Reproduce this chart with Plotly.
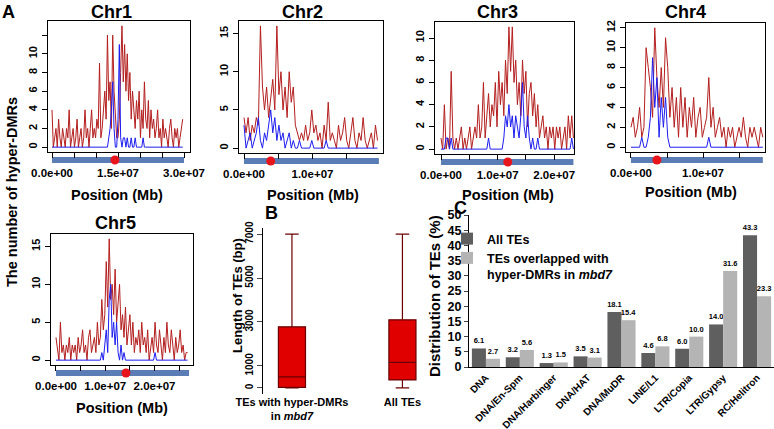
import plotly.graph_objects as go

W, H = 774, 429
def fx(p): return p / W
def fy(p): return 1 - p / H

BIN_MB = 0.3  # bin size (Mb) of the hyper-DMR counts

# ---------------- Panel A data ----------------
chr1_red = [4,0,1,2,0,3,1,0,2,1, 0,2,1,4,0,1,2,0,1,3, 0,1,2,0,1,4,1,2,0,2,
            4,1,2,1,3,2,9,1,2,4, 6,3,12,5,7,2,12,6,4,1, 1,3,8,13,7,11,6,10,5,8,
            3,6,4,2,5,3,6,1,4,2, 7,3,2,5,1,4,2,3,1,2, 4,1,2,0,3,1,2,1,0,2,
            3,1,0,2,1,2,0,1,2,3]
chr1_blue = [0,0,0,0,0,0,0,0,0,0, 0,0,0,0,0,0,0,0,0,0, 0,0,0,0,0,0,0,0,0,0,
             0,0,0,0,0,0,0,0,0,0, 0,0,0,1,2,4,7,2,0,0, 3,11,1,0,1,1,0,1,0,0,
             1,0,0,1,0,0,0,0,0,1, 0,0,0,0,0,0,0,0,0,0, 0,0,0,0,0,0,0,0,0,0,
             0,0,0,0,0,0,0,0,0,0]
chr2_red = [4,2,4,1,3,2,4,3,16,8, 5,8,4,7,9,5,16,7,10,5, 8,4,10,6,8,3,2,1,2,1,
            3,1,2,5,2,3,1,2,0,3, 1,6,1,2,1,0,3,1,2,4, 1,0,2,4,1,0,2,1,4,1,
            0,1,2,0,3,1]
chr2_blue = [3,0,1,2,0,1,2,4,1,0, 2,1,3,5,2,4,1,3,1,2, 0,1,2,0,1,0,0,1,0,0,
             0,0,0,1,0,0,0,0,0,0, 1,0,0,0,0,0,0,0,0,0, 0,0,0,0,0,0,0,0,0,0,
             0,0,0,0,0,0]
chr3_red = [1,0,4,0,1,0,7,1,0,1, 0,1,2,0,1,0,1,2,0,1, 2,1,4,1,2,6,1,3,5,2,
            4,3,6,2,7,4,6,3,8,5, 11,7,11,6,8,4,6,3,8,5, 7,2,5,6,3,5,2,4,1,2,
            3,1,2,0,2,1,2,0,2,1, 2,0,1,2,0,3,1,3,1]
chr3_blue = [0,0,0,1,1,0,1,0,0,0, 0,0,0,0,0,0,0,0,0,0, 0,0,0,0,0,0,0,0,1,0,
             0,0,0,0,0,0,0,1,3,2, 4,2,3,1,3,2,1,3,6,2, 1,3,1,0,1,0,0,1,0,0,
             0,0,0,0,0,0,0,0,0,0, 0,0,0,0,0,0,0,1,0]
chr4_red = [2,3,1,2,4,1,2,10,8,6, 3,12,7,4,8,4,11,8,3,6, 2,5,1,6,2,5,1,4,2,5,
            1,3,4,1,2,3,7,2,4,1, 2,3,1,2,0,2,1,2,0,1, 2,1,3,1,0,2,1,2,1,0,
            2,1]
chr4_blue = [0,0,0,0,0,1,0,0,1,3, 9,4,7,1,5,2,5,1,0,0, 0,0,0,0,0,0,0,0,0,0,
             0,0,0,0,0,0,1,0,0,0, 0,0,0,0,0,0,0,0,0,0, 0,0,0,0,0,0,0,0,0,0,
             0,0]
chr5_red = [3,1,0,5,1,2,0,2,1,3, 0,2,1,2,0,3,1,2,4,1, 2,0,3,4,1,2,3,1,5,2,
            3,8,4,6,13,7,16,8,10,6, 12,5,8,10,4,6,3,7,2,4, 6,2,5,1,3,2,4,1,5,2,
            3,1,4,0,2,3,1,5,2,1, 4,2,0,3,1,5,2,1,4,2, 0,3,1,2,4,1,2,0,1,1]
chr5_blue = [0,0,0,0,0,0,0,0,0,0, 0,0,0,0,0,0,0,0,0,0, 0,0,0,0,0,0,0,0,0,0,
             0,1,0,2,4,1,8,10,3,5, 2,5,1,0,2,0,1,0,0,0, 0,0,0,0,0,0,0,0,0,0,
             0,0,0,0,0,0,0,1,0,0, 0,0,0,0,0,0,0,0,0,0, 0,0,0,0,0,0,0,0,0,0]

chr_names = ["Chr1", "Chr2", "Chr3", "Chr4", "Chr5"]
chr_length_mb = [30.0, 19.7, 23.4, 18.3, 27.0]
centromere_mb = [14.3, 3.9, 11.8, 3.6, 14.2]
x_label_vals = [[0, 15e6, 30e6], [0, 10e6, 20e6], [0, 10e6, 20e6], [0, 10e6], [0, 10e6, 20e6]]
x_label_text = [["0.0e+00", "1.5e+07", "3.0e+07"], ["0.0e+00", "1.0e+07", "2.0e+07"],
                ["0.0e+00", "1.0e+07", "2.0e+07"], ["0.0e+00", "1.0e+07"],
                ["0.0e+00", "1.0e+07", "2.0e+07"]]
y_tick_vals = [[0, 2, 4, 6, 8, 10, 12], [0, 5, 10, 15], [0, 2, 4, 6, 8, 10],
               [0, 2, 4, 6, 8, 10, 12], [0, 5, 10, 15]]
y_tick_text = [["0", "2", "4", "6", "8", "10", ""], ["0", "5", "10", "15"],
               ["0", "2", "4", "6", "8", "10"], ["0", "2", "4", "6", "8", "10", "12"],
               ["0", "5", "10", "15"]]

# ---------------- Panel B data ----------------
box_groups = ["TEs with hyper-DMRs<br>in <i>mbd7</i>", "All TEs"]
box_lower = [0, 0]
box_q1 = [20, 360]
box_median = [500, 1160]
box_q3 = [2780, 3100]
box_upper = [7000, 7000]
box_ticks = [0, 1000, 3000, 5000, 7000]

# ---------------- Panel C data ----------------
te_families = ["DNA", "DNA/En-Spm", "DNA/Harbinger", "DNA/HAT", "DNA/MuDR",
               "LINE/L1", "LTR/Copia", "LTR/Gypsy", "RC/Helitron"]
all_tes = [6.1, 3.2, 1.3, 3.5, 18.1, 4.6, 6.0, 14.0, 43.3]
overlapped_tes = [2.7, 5.6, 1.5, 3.1, 15.4, 6.8, 10.0, 31.6, 23.3]

# ---------------- layout geometry (pixels) ----------------
panels = [
    dict(xd=(48, 190), yd=(21, 152), xr=(-0.91e6, 31.36e6), yr=(-0.52, 13.52), title=(112, 12), xl=(117, 195)),
    dict(xd=(239, 383), yd=(21, 153), xr=(-0.73e6, 20.3e6), yr=(-0.64, 16.64), title=(302, 12), xl=(313, 195)),
    dict(xd=(435, 574), yd=(22, 154), xr=(-1.06e6, 23.5e6), yr=(-0.44, 11.44), title=(497, 12), xl=(508, 195)),
    dict(xd=(626, 765), yd=(23, 152), xr=(-0.69e6, 18.6e6), yr=(-0.48, 12.48), title=(685, 12), xl=(691, 192)),
    dict(xd=(51, 193), yd=(234, 365), xr=(-1.01e6, 27.8e6), yr=(-0.64, 16.64), title=(115, 223), xl=(122, 408)),
]
reds = [chr1_red, chr2_red, chr3_red, chr4_red, chr5_red]
blues = [chr1_blue, chr2_blue, chr3_blue, chr4_blue, chr5_blue]

FONT = "Liberation Sans, Arial, sans-serif"
fig = go.Figure()
layout = dict(
    width=W, height=H, margin=dict(l=0, r=0, t=0, b=0, pad=0, autoexpand=False),
    paper_bgcolor="white", plot_bgcolor="white",
    font=dict(family=FONT, color="black", size=11, weight="bold"),
    bargap=0.17, bargroupgap=0.0, barmode="group",
    showlegend=True,
)
shapes = []
annotations = []

for i in range(5):
    n = i + 1
    xa = "x" if n == 1 else f"x{n}"
    ya = "y" if n == 1 else f"y{n}"
    p = panels[i]
    xs = [k * BIN_MB * 1e6 for k in range(len(reds[i]))]
    fig.add_trace(go.Scatter(x=xs, y=reds[i], mode="lines", line=dict(color="#B41E1E", width=1),
                             xaxis=xa, yaxis=ya, showlegend=False, hoverinfo="skip"))
    fig.add_trace(go.Scatter(x=xs, y=blues[i], mode="lines", line=dict(color="#1E1EF0", width=1),
                             xaxis=xa, yaxis=ya, showlegend=False, hoverinfo="skip"))
    length = chr_length_mb[i] * 1e6
    tv = [k * 5e6 for k in range(int(length // 5e6) + 1)]
    tt = []
    for v in tv:
        if v in x_label_vals[i]:
            tt.append(x_label_text[i][x_label_vals[i].index(v)])
        else:
            tt.append("")
    layout["xaxis" if n == 1 else f"xaxis{n}"] = dict(
        domain=[fx(p["xd"][0]), fx(p["xd"][1])], range=list(p["xr"]), anchor=ya, automargin=False,
        showgrid=False, zeroline=False, showline=True, mirror=True, linecolor="black", linewidth=1.3,
        ticks="outside", ticklen=5, tickcolor="black", tickvals=tv, ticktext=tt,
        tickfont=dict(size=11.5), ticklabelstandoff=5)
    layout["yaxis" if n == 1 else f"yaxis{n}"] = dict(
        domain=[fy(p["yd"][1]), fy(p["yd"][0])], range=list(p["yr"]), anchor=xa, automargin=False,
        showgrid=False, zeroline=False, showline=True, mirror=True, linecolor="black", linewidth=1.3,
        ticks="outside", ticklen=5, tickcolor="black", tickvals=y_tick_vals[i], ticktext=y_tick_text[i],
        tickangle=-90, tickfont=dict(size=11))
    bottom = p["yd"][1]
    shapes.append(dict(type="rect", xref=xa, yref="paper", x0=0, x1=length,
                       y0=fy(bottom + 11), y1=fy(bottom + 5), fillcolor="#5B7DB6",
                       line=dict(width=0), layer="below"))
    shapes.append(dict(type="circle", xref=xa, yref="paper", xsizemode="pixel", ysizemode="pixel",
                       xanchor=centromere_mb[i] * 1e6, yanchor=fy(bottom + 8),
                       x0=-4.5, x1=4.5, y0=-4.5, y1=4.5, fillcolor="#E8151B",
                       line=dict(width=0), layer="above"))
    annotations.append(dict(text=chr_names[i], x=fx(p["title"][0]), y=fy(p["title"][1]),
                            xref="paper", yref="paper", showarrow=False, font=dict(size=18),
                            xanchor="center", yanchor="middle"))
    annotations.append(dict(text="Position (Mb)", x=fx(p["xl"][0]), y=fy(p["xl"][1]),
                            xref="paper", yref="paper", showarrow=False, font=dict(size=14.5),
                            xanchor="center", yanchor="middle"))

annotations.append(dict(text="The number of hyper-DMRs", x=fx(12), y=fy(192), xref="paper", yref="paper",
                        showarrow=False, textangle=-90, font=dict(size=14.5), xanchor="center", yanchor="middle"))

# ---------------- Panel B ----------------
fig.add_trace(go.Box(x=box_groups, lowerfence=box_lower, q1=box_q1, median=box_median, q3=box_q3,
                     upperfence=box_upper, fillcolor="#E00000", line=dict(color="#6A0000", width=1.2),
                     width=0.245, whiskerwidth=0.5, boxpoints=False, xaxis="x6", yaxis="y6",
                     showlegend=False, hoverinfo="skip"))
layout["xaxis6"] = dict(domain=[fx(263), fx(440)], range=[-0.262, 1.34], anchor="y6", automargin=False,
                        type="category", categoryorder="array", categoryarray=box_groups,
                        showgrid=False, zeroline=False, showline=False, ticks="",
                        tickfont=dict(size=11))
layout["yaxis6"] = dict(domain=[fy(394), fy(228)], range=[-280, 7280], anchor="x6", automargin=False,
                        showgrid=False, zeroline=False, showline=True, linecolor="black", linewidth=1,
                        ticks="outside", ticklen=5, tickvals=box_ticks, ticktext=[str(v) for v in box_ticks],
                        tickangle=-90, tickfont=dict(size=10))
annotations.append(dict(text="Length of TEs (bp)", x=fx(237), y=fy(296), xref="paper", yref="paper",
                        showarrow=False, textangle=-90, font=dict(size=13), xanchor="center", yanchor="middle"))

# ---------------- Panel C ----------------
fig.add_trace(go.Bar(x=te_families, y=all_tes, name="All TEs", marker=dict(color="#5F5F5F", line=dict(width=0)),
                     text=[f"{v:.1f}" for v in all_tes], textposition="outside", constraintext="none",
                     textfont=dict(size=7.5, color="black"), cliponaxis=False,
                     xaxis="x7", yaxis="y7", hoverinfo="skip"))
fig.add_trace(go.Bar(x=te_families, y=overlapped_tes, name="TEs overlapped with<br>hyper-DMRs in <i>mbd7</i>",
                     marker=dict(color="#B4B4B4", line=dict(width=0)),
                     text=[f"{v:.1f}" for v in overlapped_tes], textposition="outside", constraintext="none",
                     textfont=dict(size=7.5, color="black"), cliponaxis=False,
                     xaxis="x7", yaxis="y7", hoverinfo="skip"))
layout["xaxis7"] = dict(domain=[fx(469), fx(774)], range=[-0.5, 8.5], anchor="y7", automargin=False,
                        showgrid=False, zeroline=False, showline=True, linecolor="black", linewidth=1,
                        ticks="", tickangle=-45, tickfont=dict(size=10))
layout["yaxis7"] = dict(domain=[fy(367), fy(215)], range=[0, 50], anchor="x7", dtick=5, automargin=False,
                        showgrid=False, zeroline=False, showline=True, linecolor="black", linewidth=1,
                        ticks="outside", ticklen=4, tickfont=dict(size=12.5))
annotations.append(dict(text="Distribution of TEs (%)", x=fx(434), y=fy(296), xref="paper", yref="paper",
                        showarrow=False, textangle=-90, font=dict(size=15), xanchor="center", yanchor="middle"))
layout["legend"] = dict(x=fx(447), y=fy(224), xanchor="left", yanchor="top", bgcolor="rgba(0,0,0,0)",
                        font=dict(size=12.5), valign="top", itemwidth=30, tracegroupgap=2)

# panel letters
for letter, (px, py) in zip(["A", "B", "C"], [(8, 12), (271, 213), (460, 208)]):
    annotations.append(dict(text=letter, x=fx(px), y=fy(py), xref="paper", yref="paper", showarrow=False,
                            font=dict(size=18), xanchor="center", yanchor="middle"))

layout["shapes"] = shapes
layout["annotations"] = annotations
fig.update_layout(**layout)
fig.write_html("out.html", config={"displayModeBar": False},
               post_script="document.body.style.margin='0';document.body.style.overflow='hidden';")
